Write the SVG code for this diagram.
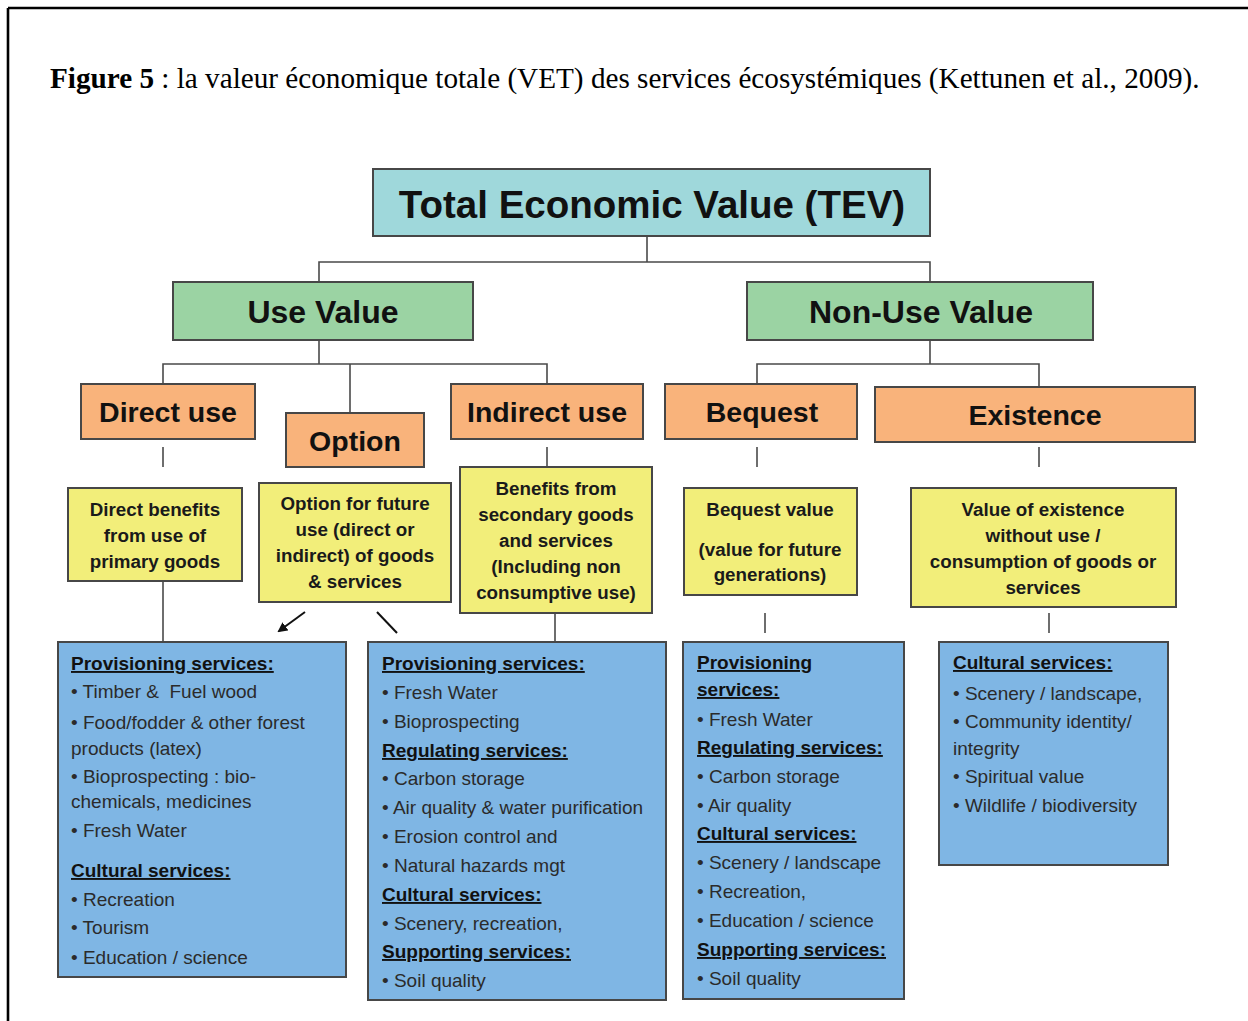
<svg xmlns="http://www.w3.org/2000/svg" width="1248" height="1021" viewBox="0 0 1248 1021">
<style>
.box{stroke:#474747;stroke-width:2}
.tev{fill:#9fd8db}
.grn{fill:#9bd3a3}
.org{fill:#f9b37b}
.yel{fill:#f2ee7a}
.blu{fill:#7fb6e4}
.big{font-family:"Liberation Sans",Arial,sans-serif;font-weight:bold;fill:#111;text-anchor:middle}
.yt{font-family:"Liberation Sans",Arial,sans-serif;font-weight:bold;font-size:18.8px;fill:#1a1a1a;text-anchor:middle}
.bt{font-family:"Liberation Sans",Arial,sans-serif;font-size:19px;fill:#2b2b2b}
.hd{font-weight:bold;fill:#111;text-decoration:underline}
.ln{stroke:#4a4a4a;stroke-width:1.6;fill:none}
</style>
<defs>
<marker id="ah" markerWidth="10" markerHeight="10" refX="8" refY="5" orient="auto" markerUnits="userSpaceOnUse">
<path d="M0,0 L10,5 L0,10 z" fill="#111"/>
</marker>
</defs>
<rect x="0" y="0" width="1248" height="1021" fill="#fff"/>
<g id="frame">
<line x1="8" y1="8" x2="1248" y2="8" stroke="#000" stroke-width="2.6"/>
<line x1="8" y1="8" x2="8" y2="1021" stroke="#000" stroke-width="2.6"/>
</g>
<g id="caption">
<text x="50" y="88" font-family="'Liberation Serif','Times New Roman',serif" font-size="29.2" fill="#000"><tspan font-weight="bold">Figure 5</tspan> : la valeur économique totale (VET) des services écosystémiques (Kettunen et al., 2009).</text>
</g>
<g id="connectors">
<polyline class="ln" points="647,236 647,262"/>
<polyline class="ln" points="319,282 319,262 930,262 930,282"/>
<polyline class="ln" points="319,340 319,364"/>
<polyline class="ln" points="163,384 163,364 547,364 547,384"/>
<polyline class="ln" points="350,364 350,413"/>
<polyline class="ln" points="930,340 930,364"/>
<polyline class="ln" points="757,384 757,364 1039,364 1039,387"/>
<line class="ln" x1="163" y1="447" x2="163" y2="467"/>
<line class="ln" x1="547" y1="447" x2="547" y2="467"/>
<line class="ln" x1="757" y1="447" x2="757" y2="467"/>
<line class="ln" x1="1039" y1="447" x2="1039" y2="467"/>
<line class="ln" x1="163" y1="581" x2="163" y2="642"/>
<line class="ln" x1="555" y1="613" x2="555" y2="642"/>
<line class="ln" x1="765" y1="613" x2="765" y2="633"/>
<line class="ln" x1="1049" y1="613" x2="1049" y2="633"/>
<line x1="305" y1="612" x2="279" y2="631" stroke="#111" stroke-width="2" marker-end="url(#ah)"/>
<line x1="377" y1="612" x2="397" y2="633" stroke="#111" stroke-width="2"/>
</g>
<g id="tev">
<rect class="box tev" x="373" y="169" width="557" height="67"/>
<text class="big" x="652" y="218" font-size="38.5">Total Economic Value (TEV)</text>
</g>
<g id="use-value">
<rect class="box grn" x="173" y="282" width="300" height="58"/>
<text class="big" x="323" y="323" font-size="32">Use Value</text>
</g>
<g id="non-use-value">
<rect class="box grn" x="747" y="282" width="346" height="58"/>
<text class="big" x="921" y="323" font-size="32">Non-Use Value</text>
</g>
<g id="direct-use">
<rect class="box org" x="81" y="384" width="174" height="55"/>
<text class="big" x="168" y="422" font-size="28.5">Direct use</text>
</g>
<g id="option">
<rect class="box org" x="286" y="413" width="138" height="54"/>
<text class="big" x="355" y="451" font-size="28.5">Option</text>
</g>
<g id="indirect-use">
<rect class="box org" x="451" y="384" width="192" height="55"/>
<text class="big" x="547" y="422" font-size="28.5">Indirect use</text>
</g>
<g id="bequest">
<rect class="box org" x="665" y="384" width="192" height="55"/>
<text class="big" x="762" y="422" font-size="28.5">Bequest</text>
</g>
<g id="existence">
<rect class="box org" x="875" y="387" width="320" height="55"/>
<text class="big" x="1035" y="425" font-size="28.5">Existence</text>
</g>
<g id="direct-benefits">
<rect class="box yel" x="68" y="488" width="174" height="93"/>
<text class="yt" x="155" y="516">Direct benefits</text>
<text class="yt" x="155" y="542">from use of</text>
<text class="yt" x="155" y="568">primary goods</text>
</g>
<g id="option-benefits">
<rect class="box yel" x="259" y="483" width="192" height="119"/>
<text class="yt" x="355" y="510">Option for future</text>
<text class="yt" x="355" y="536">use (direct or</text>
<text class="yt" x="355" y="562">indirect) of goods</text>
<text class="yt" x="355" y="588">&amp; services</text>
</g>
<g id="indirect-benefits">
<rect class="box yel" x="460" y="467" width="192" height="146"/>
<text class="yt" x="556" y="495">Benefits from</text>
<text class="yt" x="556" y="521">secondary goods</text>
<text class="yt" x="556" y="547">and services</text>
<text class="yt" x="556" y="573">(Including non</text>
<text class="yt" x="556" y="599">consumptive use)</text>
</g>
<g id="bequest-value">
<rect class="box yel" x="684" y="488" width="173" height="107"/>
<text class="yt" x="770" y="516">Bequest value</text>
<text class="yt" x="770" y="556">(value for future</text>
<text class="yt" x="770" y="581">generations)</text>
</g>
<g id="existence-value">
<rect class="box yel" x="911" y="488" width="265" height="119"/>
<text class="yt" x="1043" y="516">Value of existence</text>
<text class="yt" x="1043" y="542">without use /</text>
<text class="yt" x="1043" y="568">consumption of goods or</text>
<text class="yt" x="1043" y="594">services</text>
</g>
<g id="direct-services">
<rect class="box blu" x="58" y="642" width="288" height="335"/>
<text class="bt hd" x="71" y="670">Provisioning services:</text>
<text class="bt" x="71" y="698">• Timber &amp;&#160; Fuel wood</text>
<text class="bt" x="71" y="729">• Food/fodder &amp; other forest</text>
<text class="bt" x="71" y="755">products (latex)</text>
<text class="bt" x="71" y="783">• Bioprospecting : bio-</text>
<text class="bt" x="71" y="808">chemicals, medicines</text>
<text class="bt" x="71" y="837">• Fresh Water</text>
<text class="bt hd" x="71" y="877">Cultural services:</text>
<text class="bt" x="71" y="906">• Recreation</text>
<text class="bt" x="71" y="934">• Tourism</text>
<text class="bt" x="71" y="964">• Education / science</text>
</g>
<g id="indirect-services">
<rect class="box blu" x="368" y="642" width="298" height="358"/>
<text class="bt hd" x="382" y="670">Provisioning services:</text>
<text class="bt" x="382" y="699">• Fresh Water</text>
<text class="bt" x="382" y="728">• Bioprospecting</text>
<text class="bt hd" x="382" y="757">Regulating services:</text>
<text class="bt" x="382" y="785">• Carbon storage</text>
<text class="bt" x="382" y="814">• Air quality &amp; water purification</text>
<text class="bt" x="382" y="843">• Erosion control and</text>
<text class="bt" x="382" y="872">• Natural hazards mgt</text>
<text class="bt hd" x="382" y="901">Cultural services:</text>
<text class="bt" x="382" y="930">• Scenery, recreation,</text>
<text class="bt hd" x="382" y="958">Supporting services:</text>
<text class="bt" x="382" y="987">• Soil quality</text>
</g>
<g id="bequest-services">
<rect class="box blu" x="683" y="642" width="221" height="357"/>
<text class="bt hd" x="697" y="669">Provisioning</text>
<text class="bt hd" x="697" y="696">services:</text>
<text class="bt" x="697" y="726">• Fresh Water</text>
<text class="bt hd" x="697" y="754">Regulating services:</text>
<text class="bt" x="697" y="783">• Carbon storage</text>
<text class="bt" x="697" y="812">• Air quality</text>
<text class="bt hd" x="697" y="840">Cultural services:</text>
<text class="bt" x="697" y="869">• Scenery / landscape</text>
<text class="bt" x="697" y="898">• Recreation,</text>
<text class="bt" x="697" y="927">• Education / science</text>
<text class="bt hd" x="697" y="956">Supporting services:</text>
<text class="bt" x="697" y="985">• Soil quality</text>
</g>
<g id="existence-services">
<rect class="box blu" x="939" y="642" width="229" height="223"/>
<text class="bt hd" x="953" y="669">Cultural services:</text>
<text class="bt" x="953" y="700">• Scenery / landscape,</text>
<text class="bt" x="953" y="728">• Community identity/</text>
<text class="bt" x="953" y="755">integrity</text>
<text class="bt" x="953" y="783">• Spiritual value</text>
<text class="bt" x="953" y="812">• Wildlife / biodiversity</text>
</g>
</svg>
